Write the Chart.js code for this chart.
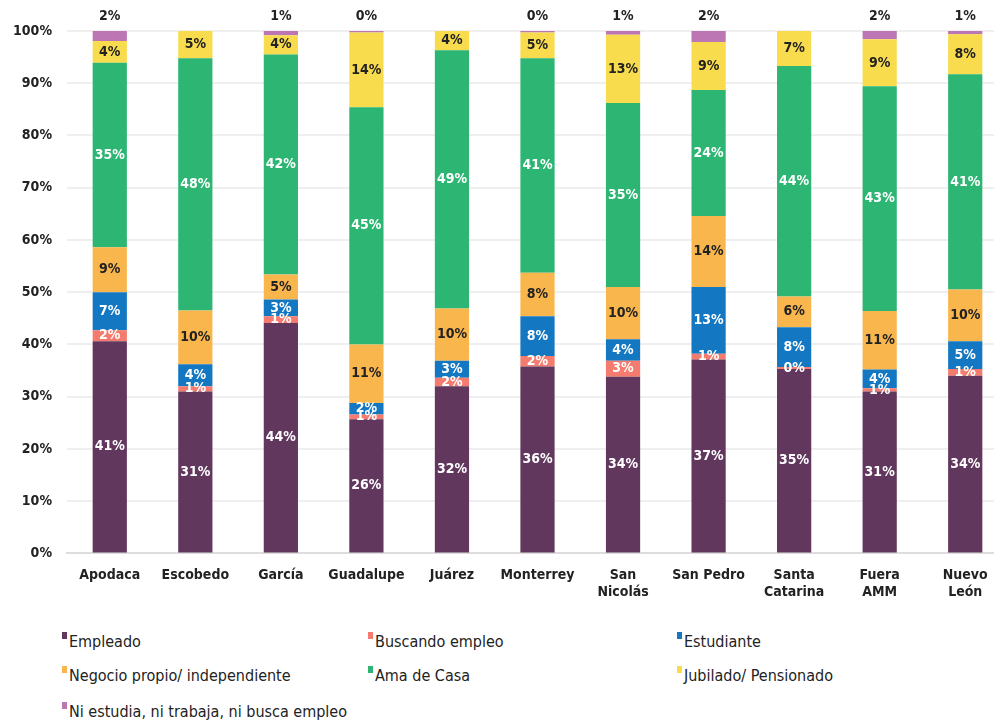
<!DOCTYPE html>
<html>
<head>
<meta charset="utf-8">
<script src="https://cdn.jsdelivr.net/npm/chart.js@4/dist/chart.umd.min.js"></script>
<style>
  html, body { margin: 0; padding: 0; background: #fff; overflow: hidden; }
  body { width: 994px; height: 722px; position: relative; font-family: "DejaVu Sans Condensed", "DejaVu Sans", sans-serif; }
  #wrap { position: absolute; left: 0; top: 0; width: 1008px; height: 607px; }
  .legend { position: absolute; left: 0; top: 0; width: 994px; }
  .item { position: absolute; font-size: 16px; color: #222; white-space: nowrap; }
  .item i { display: inline-block; width: 5px; height: 7px; margin-right: 2px; vertical-align: 8px; }
</style>
</head>
<body>
<div id="wrap"><canvas id="chart"></canvas></div>
<div class="legend" id="legend"></div>
<script>
// categories and series (percent of each municipality)
const categories = ["Apodaca", "Escobedo", "García", "Guadalupe", "Juárez", "Monterrey",
  ["San", "Nicolás"], "San Pedro", ["Santa", "Catarina"], ["Fuera", "AMM"], ["Nuevo", "León"]];

const empleado   = [40.6, 31.0, 44.1, 25.7, 32.0, 35.8, 33.8, 37.1, 35.3, 31.0, 34.0];
const buscando   = [2.1, 1.0, 1.3, 0.9, 1.6, 2.0, 3.1, 1.1, 0.4, 0.6, 1.3];
const estudiante = [7.3, 4.2, 3.2, 2.2, 3.3, 7.6, 4.1, 12.8, 7.6, 3.6, 5.3];
const negocio    = [8.6, 10.3, 4.8, 11.2, 10.0, 8.3, 10.0, 13.6, 5.9, 11.2, 9.9];
const amaDeCasa  = [35.3, 48.3, 42.1, 45.4, 49.4, 41.1, 35.2, 24.1, 44.1, 43.0, 41.2];
const jubilado   = [4.2, 5.2, 3.7, 14.3, 3.7, 4.9, 13.1, 9.2, 6.7, 9.0, 7.7];
const niNi       = [1.9, null, 0.8, 0.3, null, 0.3, 0.7, 2.1, null, 1.6, 0.6];

const yTicks = [0, 10, 20, 30, 40, 50, 60, 70, 80, 90, 100];

const seriesNames = ["Empleado", "Buscando empleo", "Estudiante", "Negocio propio/ independiente",
  "Ama de Casa", "Jubilado/ Pensionado", "Ni estudia, ni trabaja, ni busca empleo"];
const seriesData = [empleado, buscando, estudiante, negocio, amaDeCasa, jubilado, niNi];
const colors = ["#61375d", "#f47b6d", "#1477c2", "#f9b64d", "#2db673", "#f9dc4d", "#bb76b3"];
const labelColors = ["#fff", "#fff", "#fff", "#222", "#fff", "#222", "#222"];

const FONT = '"DejaVu Sans Condensed", "DejaVu Sans", sans-serif';

// draws the % text on every segment
const barLabels = {
  id: 'barLabels',
  afterDatasetsDraw(chart) {
    const ctx = chart.ctx;
    ctx.save();
    ctx.font = 'bold 14px ' + FONT;
    ctx.textAlign = 'center';
    ctx.textBaseline = 'middle';
    chart.data.datasets.forEach((ds, i) => {
      const meta = chart.getDatasetMeta(i);
      meta.data.forEach((bar, j) => {
        const v = ds.data[j];
        if (v == null) return;
        ctx.fillStyle = ds.labelColor;
        let y = (bar.y + bar.base) / 2;
        if (i === chart.data.datasets.length - 1) y = chart.chartArea.top - 15;
        ctx.fillText(Math.round(v) + '%', bar.x, y);
      });
    });
    ctx.restore();
  }
};

const datasets = seriesData.map((d, i) => ({
  label: seriesNames[i],
  data: d,
  backgroundColor: colors[i],
  labelColor: labelColors[i],
  borderWidth: 0,
  barPercentage: 1,
  categoryPercentage: 0.4
}));

new Chart(document.getElementById('chart'), {
  type: 'bar',
  data: { labels: categories, datasets: datasets },
  plugins: [barLabels],
  options: {
    responsive: true,
    maintainAspectRatio: false,
    animation: false,
    layout: { padding: { top: 31, left: 0, right: 0, bottom: 0 } },
    plugins: { legend: { display: false }, tooltip: { enabled: false } },
    scales: {
      x: {
        stacked: true,
        grid: { display: false },
        border: { color: '#dddddd', width: 2 },
        ticks: { color: '#222', font: { family: FONT, size: 14, weight: 'bold' }, padding: 6, maxRotation: 0, autoSkip: false }
      },
      y: {
        stacked: true,
        min: 0,
        max: 100,
        afterFit(scale) { scale.width = 67; },
        afterBuildTicks(scale) { scale.ticks = yTicks.map(v => ({ value: v })); },
        grid: { color: '#efefef', lineWidth: 2, drawTicks: false },
        border: { display: false },
        ticks: { color: '#222', font: { family: FONT, size: 14, weight: 'bold' }, padding: 15, callback: v => v + '%' }
      }
    }
  }
});

// html legend in three columns
const cols = [62, 368, 677];
const rows = [632, 666, 702];
const legend = document.getElementById('legend');
seriesNames.forEach((name, i) => {
  const el = document.createElement('div');
  el.className = 'item';
  el.style.left = cols[i % 3] + 'px';
  el.style.top = rows[Math.floor(i / 3)] + 'px';
  el.innerHTML = '<i style="background:' + colors[i] + '"></i>' + name;
  legend.appendChild(el);
});
</script>
</body>
</html>
